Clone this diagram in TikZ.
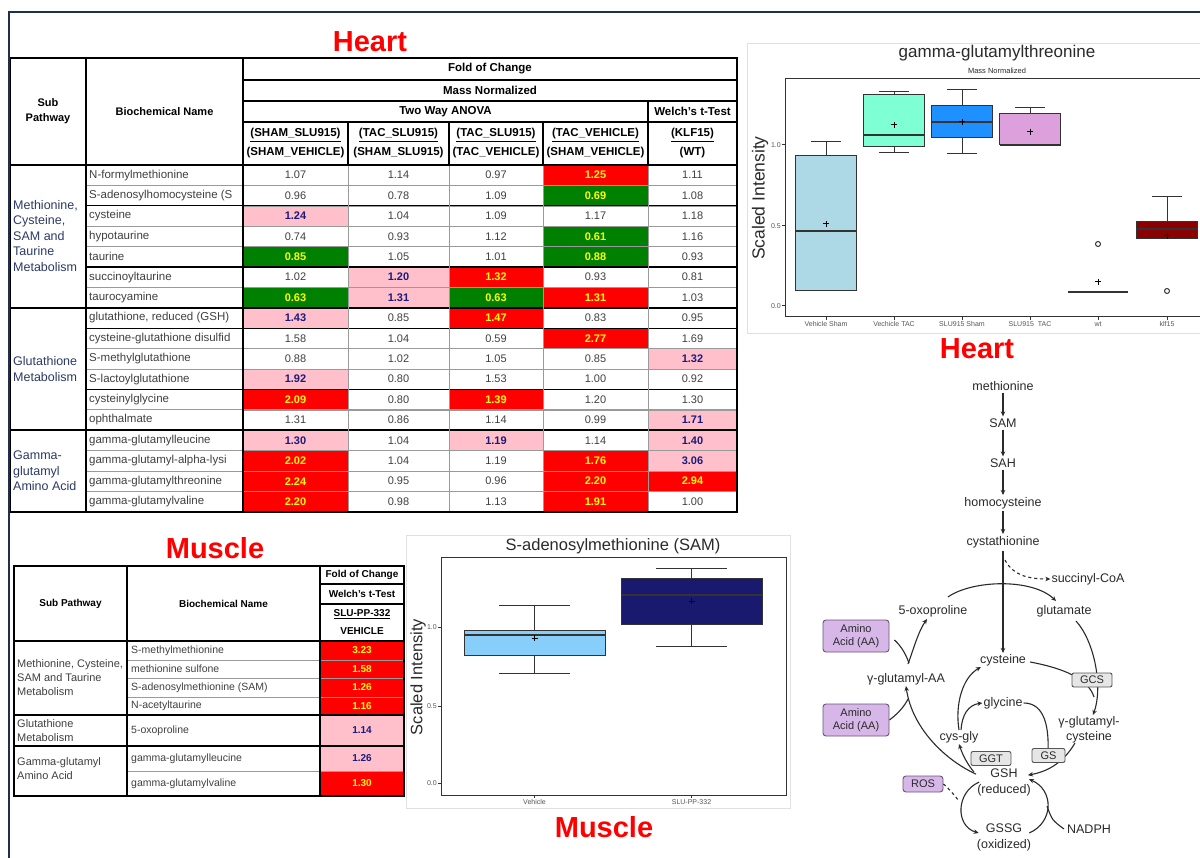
\documentclass[tikz,border=0pt]{standalone}
\usepackage{fontspec}
\setmainfont{Liberation Sans}
\usetikzlibrary{arrows.meta,calc}
\definecolor{frameblue}{HTML}{1F2F4F}
\definecolor{pinkc}{HTML}{FFC0CB}
\definecolor{navyt}{HTML}{1A1A7A}
\definecolor{redc}{HTML}{FF0000}
\definecolor{greenc}{HTML}{008000}
\definecolor{yelt}{HTML}{FFFF00}
\definecolor{txtg}{HTML}{404040}
\definecolor{subp}{HTML}{2B3A67}
\definecolor{gridg}{HTML}{9A9A9A}
\definecolor{purp}{HTML}{D7B7E8}
\definecolor{purpd}{HTML}{6B5577}
\definecolor{boxg}{HTML}{E6E6E6}
\definecolor{pwt}{HTML}{2A2A2A}
\definecolor{bpc}{HTML}{333333}
\definecolor{tickc}{HTML}{555555}
\definecolor{vsham}{HTML}{ADD8E6}
\definecolor{vtac}{HTML}{7FFFD4}
\definecolor{ssham}{HTML}{1E90FF}
\definecolor{stac}{HTML}{DDA0DD}
\definecolor{klf}{HTML}{8B0000}
\definecolor{veh}{HTML}{87CEFA}
\definecolor{slu}{HTML}{191970}
\newcommand\fsz[2]{\fontsize{#1}{#2}\selectfont}
\tikzset{
  celln/.style={draw=gridg, fill=white, text=txtg, font=\fsz{11}{13}},
  cellp/.style={draw=gridg, fill=pinkc, text=navyt, font=\fsz{11}{13}\bfseries},
  cellr/.style={draw=black, fill=redc, text=yelt, font=\fsz{11}{13}\bfseries},
  cellg/.style={draw=black, fill=greenc, text=yelt, font=\fsz{11}{13}\bfseries},
  namecell/.style={anchor=west, text=txtg, font=\fsz{11.5}{13}, inner sep=0pt},
  hdr/.style={font=\fsz{11.5}{19}\bfseries, text=black, inner sep=0pt, align=center},
  subl/.style={font=\fsz{12.5}{15.5}, text=subp, inner sep=0pt, align=left, anchor=west},
  msubl/.style={font=\fsz{11}{14}, text=txtg, inner sep=0pt, align=left, anchor=west},
  mname/.style={anchor=west, text=txtg, font=\fsz{10.5}{12}, inner sep=0pt},
  mval/.style={font=\fsz{10}{12}\bfseries, inner sep=0pt, minimum width=83pt},
  mhdr/.style={font=\fsz{10}{18}\bfseries, text=black, inner sep=0pt, align=center},
  tline/.style={draw=black, line width=1.2pt},
  tthick/.style={draw=black, line width=1.8pt},
  tgrid/.style={draw=gridg, line width=0.8pt},
  bigtitle/.style={font=\fsz{29}{32}\bfseries, text=redc, inner sep=0pt},
  panelb/.style={draw=black!12, fill=white, line width=0.8pt},
  bframe/.style={draw=bpc, line width=1pt},
  bpl/.style={draw=bpc, line width=1pt},
  tick/.style={font=\fsz{7}{8}, text=tickc, inner sep=0pt},
  pw/.style={font=\fsz{12.5}{15.5}, text=pwt, inner sep=1pt, align=center},
  pbox/.style={draw=purpd, fill=purp, rounded corners=3pt, font=\fsz{11}{13}, text=pwt, align=center, minimum width=66pt, minimum height=32pt, inner sep=1pt, line width=0.9pt},
  gbox/.style={draw=tickc, fill=boxg, rounded corners=2pt, font=\fsz{11}{12}, text=pwt, minimum width=40pt, minimum height=14pt, inner sep=0pt, line width=0.9pt},
  arr/.style={line width=1.1pt, draw=pwt, -{Stealth[length=5pt,width=4.5pt]}},
  pl/.style={line width=1.1pt, draw=pwt},
}
\newcommand\hrow[3]{%
  \pgfmathsetmacro\ry{165+20.4*(#1-0.5)}%
  \node[namecell] (hn#1) at (89,\ry) {#2};%
  \foreach \t/\v [count=\j] in {#3} {%
    \pgfmathsetmacro\cx{{295.5,398.5,496,595.5,692.5}[\j-1]}%
    \pgfmathsetmacro\cw{{105,101,94,105,89}[\j-1]}%
    \node[cell\t, inner sep=0pt, minimum width=\cw pt, minimum height=20.4pt] (h#1c\j) at (\cx,\ry) {\v};%
  }%
}
\newcommand\mrow[6]{%
  \node[mname] (mn#1) at (131,#3) {#2};%
  \node[#5, mval, minimum height=#4pt] (mv#1) at (362,#3) {#6};%
}
\newcommand\bxp[8]{% xc, hw, q3, med, q1, whisk top, whisk bottom, fill
  \draw[bpl] (#1,#3) -- (#1,#6);
  \draw[bpl] (#1-#2/2,#6) -- (#1+#2/2,#6);
  \draw[bpl] (#1,#5) -- (#1,#7);
  \draw[bpl] (#1-#2/2,#7) -- (#1+#2/2,#7);
  \draw[bpl, fill=#8] (#1-#2,#3) rectangle (#1+#2,#5);
  \draw[bpl, line width=1.8pt] (#1-#2,#4) -- (#1+#2,#4);
}
\newcommand\bmean[2]{\draw[draw=black, line width=1pt] (#1-3,#2) -- (#1+3,#2) (#1,#2-3) -- (#1,#2+3);}
\begin{document}
\begin{tikzpicture}[x=1pt,y=-1pt]
\useasboundingbox (0,0) rectangle (1200,858);
\fill[white] (0,0) rectangle (1200,858);

% ================= HEART TABLE =================
\node[bigtitle] (heartT) at (370,42) {Heart};
\node[hdr, font=\fsz{11}{15}\bfseries] (hsub) at (48,111.5) {Sub\\Pathway};
\node[hdr, font=\fsz{11}{15}\bfseries] (hbio) at (164.5,111.5) {Biochemical Name};
\node[hdr] (hfoc) at (490,69) {Fold of Change};
\node[hdr] (hmn) at (490,90.5) {Mass Normalized};
\node[hdr] (htwa) at (445.5,111.5) {Two Way ANOVA};
\node[hdr] (hwel) at (692.5,111.5) {Welch's t-Test};
\node[hdr] (hc1) at (295.5,143.5) {\underline{(SHAM\_SLU915)}\\(SHAM\_VEHICLE)};
\node[hdr] (hc2) at (398.5,143.5) {\underline{(TAC\_SLU915)}\\(SHAM\_SLU915)};
\node[hdr] (hc3) at (496,143.5) {\underline{(TAC\_SLU915)}\\(TAC\_VEHICLE)};
\node[hdr] (hc4) at (595.5,143.5) {\underline{(TAC\_VEHICLE)}\\(SHAM\_VEHICLE)};
\node[hdr] (hc5) at (692.5,143.5) {\underline{(KLF15)}\\(WT)};

\hrow{1}{N-formylmethionine}{n/1.07,n/1.14,n/0.97,r/1.25,n/1.11}
\hrow{2}{S-adenosylhomocysteine (S}{n/0.96,n/0.78,n/1.09,g/0.69,n/1.08}
\hrow{3}{cysteine}{p/1.24,n/1.04,n/1.09,n/1.17,n/1.18}
\hrow{4}{hypotaurine}{n/0.74,n/0.93,n/1.12,g/0.61,n/1.16}
\hrow{5}{taurine}{g/0.85,n/1.05,n/1.01,g/0.88,n/0.93}
\hrow{6}{succinoyltaurine}{n/1.02,p/1.20,r/1.32,n/0.93,n/0.81}
\hrow{7}{taurocyamine}{g/0.63,p/1.31,g/0.63,r/1.31,n/1.03}
\hrow{8}{glutathione, reduced (GSH)}{p/1.43,n/0.85,r/1.47,n/0.83,n/0.95}
\hrow{9}{cysteine-glutathione disulfid}{n/1.58,n/1.04,n/0.59,r/2.77,n/1.69}
\hrow{10}{S-methylglutathione}{n/0.88,n/1.02,n/1.05,n/0.85,p/1.32}
\hrow{11}{S-lactoylglutathione}{p/1.92,n/0.80,n/1.53,n/1.00,n/0.92}
\hrow{12}{cysteinylglycine}{r/2.09,n/0.80,r/1.39,n/1.20,n/1.30}
\hrow{13}{ophthalmate}{n/1.31,n/0.86,n/1.14,n/0.99,p/1.71}
\hrow{14}{gamma-glutamylleucine}{p/1.30,n/1.04,p/1.19,n/1.14,p/1.40}
\hrow{15}{gamma-glutamyl-alpha-lysi}{r/2.02,n/1.04,n/1.19,r/1.76,p/3.06}
\hrow{16}{gamma-glutamylthreonine}{r/2.24,n/0.95,n/0.96,r/2.20,r/2.94}
\hrow{17}{gamma-glutamylvaline}{r/2.20,n/0.98,n/1.13,r/1.91,n/1.00}

\node[subl] (hg1) at (13,236) {Methionine,\\Cysteine,\\SAM and\\Taurine\\Metabolism};
\node[subl] (hg2) at (13,369) {Glutathione\\Metabolism};
\node[subl] (hg3) at (13,471) {Gamma-\\glutamyl\\Amino Acid};

% table structure lines
\draw[tgrid] \foreach \k in {1,3,4,6,9,10,12,14,15,16} {(86,{165+20.4*\k}) -- (737,{165+20.4*\k})};
\draw[tline] \foreach \k in {2,5,8,11} {(86,{165+20.4*\k}) -- (737,{165+20.4*\k})};
\draw[tthick] (10,307.8) -- (737,307.8) (10,430.2) -- (737,430.2);
\draw[tline] (243,80) -- (737,80) (243,101) -- (737,101) (243,122) -- (737,122);
\draw[tline] (348,122) -- (348,165) (449,122) -- (449,165) (543,122) -- (543,165) (648,101) -- (648,165);
\draw[tgrid] (348,165) -- (348,512) (449,165) -- (449,512) (543,165) -- (543,512) (648,165) -- (648,512);
\draw[tthick] (10,165) -- (737,165);
\draw[tthick] (86,58) -- (86,512) (243,58) -- (243,512);
\draw[tthick] (10,58) rectangle (737,512);

% ================= MUSCLE TABLE =================
\node[bigtitle] (muscT) at (215,548) {Muscle};
\node[mhdr] (msub) at (70.5,603.5) {Sub Pathway};
\node[mhdr] (mbio) at (223.5,603.5) {Biochemical Name};
\node[mhdr] (mfoc) at (362,575) {Fold of Change};
\node[mhdr] (mwel) at (362,594) {Welch's t-Test};
\node[mhdr] (mslu) at (362,622.5) {\underline{SLU-PP-332}\\VEHICLE};
\mrow{1}{S-methylmethionine}{650.5}{19}{cellr}{3.23}
\mrow{2}{methionine sulfone}{669}{18}{cellr}{1.58}
\mrow{3}{S-adenosylmethionine (SAM)}{687.5}{19}{cellr}{1.26}
\mrow{4}{N-acetyltaurine}{706}{18}{cellr}{1.16}
\mrow{5}{5-oxoproline}{730.5}{31}{cellp}{1.14}
\mrow{6}{gamma-glutamylleucine}{758.5}{25}{cellp}{1.26}
\mrow{7}{gamma-glutamylvaline}{783.5}{25}{cellr}{1.30}
\node[msubl] (mg1) at (17,678) {Methionine, Cysteine,\\SAM and Taurine\\Metabolism};
\node[msubl] (mg2) at (17,730.5) {Glutathione\\Metabolism};
\node[msubl] (mg3) at (17,768.5) {Gamma-glutamyl\\Amino Acid};
\draw[tgrid] (127,660) -- (404,660) (127,678) -- (404,678) (127,697) -- (404,697) (127,771) -- (404,771);
\draw[tline] (320,584) -- (404,584) (320,604) -- (404,604);
\draw[tthick] (14,641) -- (404,641) (14,715) -- (404,715) (14,746) -- (404,746);
\draw[tthick] (127,566) -- (127,796) (320,566) -- (320,796);
\draw[tthick] (14,566) rectangle (404,796);

% ================= HEART BOXPLOT =================
\draw[panelb] (747,43) rectangle (1215,333);
\node[font=\fsz{17}{18}, text=pwt, inner sep=0pt] (hbt) at (997,53) {gamma-glutamylthreonine};
\node[font=\fsz{7.5}{8}, text=pwt, inner sep=0pt] (hbs) at (997,70.5) {Mass Normalized};
\node[font=\fsz{17.5}{18}, text=pwt, rotate=90, inner sep=0pt] (hyl) at (760,198) {Scaled Intensity};
\foreach \v/\y [count=\i] in {1.0/145,0.5/226,0.0/306} {
  \draw[bpl] (782,\y) -- (785,\y);
  \node[tick, anchor=east] (hyt\i) at (781,\y) {\v};
}
\foreach \x/\l [count=\i] in {826/Vehicle Sham,894/Vechicle TAC,962/SLU915 Sham,1030/SLU915\ \ TAC,1098/wt,1167/klf15} {
  \draw[bpl] (\x,317) -- (\x,320);
  \node[tick] (hxt\i) at (\x,324.5) {\l};
}
\bxp{826}{30.5}{156}{231}{291}{142}{291}{vsham}
\bxp{894}{30.5}{95}{135}{147}{92}{153}{vtac}
\bxp{962}{30.5}{106}{122}{138}{90}{154}{ssham}
\bxp{1030}{30.5}{114}{145}{145}{108}{145}{stac}
\draw[bpl, line width=1.8pt] (1068,292) -- (1128,292);
\draw[bpl] (1098,244) circle (2.5);
\bxp{1167}{30.5}{222}{229}{239}{197}{239}{klf}
\draw[bpl] (1167,291) circle (2.5);
\bmean{826}{224}\bmean{894}{125}\bmean{962}{122}\bmean{1030}{132}\bmean{1098}{282}\bmean{1167}{236}
\draw[bframe] (785,79) rectangle (1215,317);
\node[bigtitle] (heartT2) at (977,349) {Heart};

% ================= MUSCLE BOXPLOT =================
\draw[panelb] (406,535) rectangle (790,808);
\node[font=\fsz{16.5}{18}, text=pwt, inner sep=0pt] (mbt) at (613,546) {S-adenosylmethionine (SAM)};
\node[font=\fsz{16.5}{18}, text=pwt, rotate=90, inner sep=0pt] (myl) at (418,677) {Scaled Intensity};
\foreach \v/\y [count=\i] in {1.0/627,0.5/706,0.0/783} {
  \draw[bpl] (438,\y) -- (441,\y);
  \node[tick, anchor=east] (myt\i) at (437,\y) {\v};
}
\foreach \x/\l [count=\i] in {534.5/Vehicle,691.5/SLU-PP-332} {
  \draw[bpl] (\x,795) -- (\x,798);
  \node[tick] (mxt\i) at (\x,802) {\l};
}
\bxp{534.5}{70.5}{630}{635}{655}{605}{673}{veh}
\bxp{691.5}{70.5}{578}{595}{624}{568}{646}{slu}
\bmean{534.5}{638}\bmean{691.5}{601}
\draw[bframe] (441,557) rectangle (786,795);
\node[bigtitle] (muscT2) at (604,827) {Muscle};

% ================= PATHWAY =================
\node[pw] (met) at (1003,386) {methionine};
\node[pw] (sam) at (1003,423) {SAM};
\node[pw] (sah) at (1003,463) {SAH};
\node[pw] (hcy) at (1003,503) {homocysteine};
\node[pw] (cth) at (1003,542) {cystathionine};
\node[pw] (suc) at (1088,579) {succinyl-CoA};
\node[pw] (oxo) at (933,611) {5-oxoproline};
\node[pw] (glu) at (1064,611) {glutamate};
\node[pw] (cys) at (1003,660) {cysteine};
\node[pw] (gly) at (1003,703) {glycine};
\node[pw, font=\fsz{12.5}{15}] (ggc) at (1089,729.5) {γ-glutamyl-\\cysteine};
\node[pw] (cysgly) at (959,737) {cys-gly};
\node[pw] (ggaa) at (906,679) {γ-glutamyl-AA};
\node[pw, font=\fsz{12.5}{16}] (gsh) at (1004,782) {GSH\\(reduced)};
\node[pw, font=\fsz{12.5}{16}] (gssg) at (1004,837) {GSSG\\(oxidized)};
\node[pw] (nadph) at (1089,829) {NADPH};
\node[pbox] (aa1) at (856,636) {Amino\\Acid (AA)};
\node[pbox] (aa2) at (856,720) {Amino\\Acid (AA)};
\node[pbox, minimum width=40pt, minimum height=16pt] (ros) at (923,784) {ROS};

\draw[arr, shorten >=1pt, shorten <=1pt] (met) -- (sam);
\draw[arr, shorten >=1pt, shorten <=1pt] (sam) -- (sah);
\draw[arr, shorten >=1pt, shorten <=1pt] (sah) -- (hcy);
\draw[arr, shorten >=1pt, shorten <=1pt] (hcy) -- (cth);
\draw[arr, shorten <=2pt] (cth) -- (cys);
\draw[arr, dashed] ($(cth.south)+(2,11)$) .. controls (1012,574) and (1026,579) .. (suc.west);
\draw[arr] ($(oxo.north)+(15,-7)$) .. controls (972,580) and (1032,578) .. ($(glu.north)+(-8,-3)$);
\draw[arr] ($(glu.south)+(12,3)$) .. controls (1095,642) and (1103,688) .. ($(ggc.north)+(4,0)$);
\draw[pl] ($(cys.east)+(3,2)$) .. controls (1062,668) and (1088,678) .. (1094,697);
\draw[arr] ($(ggc.south)+(-14,-1)$) .. controls (1062,765) and (1045,772) .. ($(gsh.north east)+(-4,8)$);
\draw[pl] (gly.east) .. controls (1045,703) and (1049,728) .. (1048,752);
\draw[arr] ($(gsh.north west)+(-2,5)$) .. controls (968,765) and (963,756) .. (cysgly.south);
\draw[arr] ($(gsh.north west)+(0,7)$) .. controls (945,760) and (912,728) .. (ggaa.south);
\draw[pl] (aa2.east) .. controls (900,712) and (905,705) .. (908,699);
\draw[arr] ($(ggaa.north)+(2,-8)$) .. controls (914,648) and (918,632) .. ($(oxo.south)+(-6,1)$);
\draw[pl] ($(aa1.east)+(5,4)$) .. controls (900,645) and (905,652) .. (909,663);
\draw[arr] (cysgly.north) .. controls (955,705) and (962,678) .. ($(cys.south west)+(2,0)$);
\draw[arr] ($(cysgly.north)+(2,0)$) .. controls (962,715) and (968,705) .. (gly.west);
\draw[arr] ($(gsh.north west)+(3,15)$) .. controls (956,792) and (955,826) .. ($(gssg.west)+(3,-4)$);
\draw[arr] ($(gssg.east)+(-3,-4)$) .. controls (1054,822) and (1054,790) .. ($(gsh.north east)+(-3,12)$);
\draw[pl] ($(nadph.west)+(-2,0)$) .. controls (1052,820) .. (1047,806);
\draw[pl, dashed] (ros.east) .. controls (950,790) .. (959,801);

\node[gbox] (gcs) at (1092,680) {GCS};
\node[gbox] (ggt) at (991,758.5) {GGT};
\node[gbox, minimum width=33pt] (gs) at (1048.5,755.5) {GS};

% ================= OUTER FRAME =================
\draw[frameblue, line width=2pt] (9,870) -- (9,12) -- (1210,12);
\end{tikzpicture}
\end{document}
